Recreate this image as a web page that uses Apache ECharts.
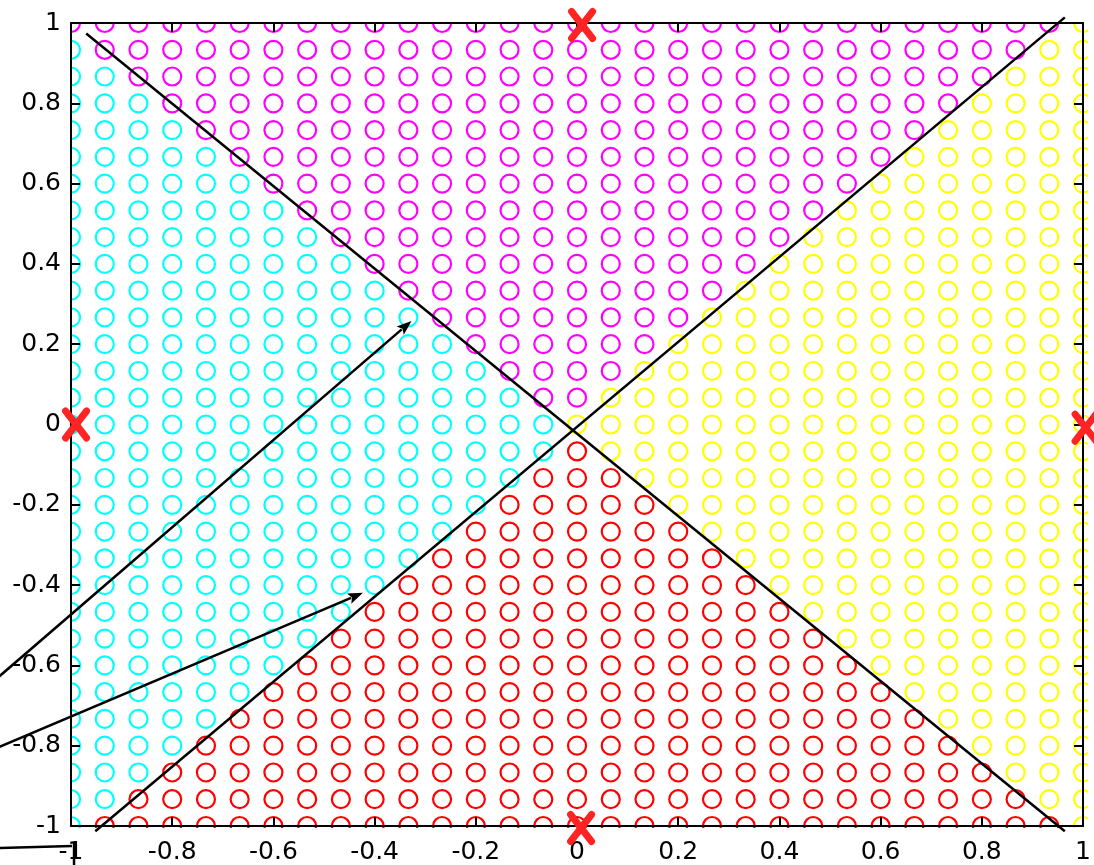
<!DOCTYPE html>
<html>
<head>
<meta charset="utf-8">
<script src="https://cdn.jsdelivr.net/npm/echarts@6/dist/echarts.min.js"></script>
<style>
html,body{margin:0;padding:0;background:#fff;}
#chart{width:1094px;height:865px;}
</style>
</head>
<body>
<div id="chart"></div>
<script>
// Sample grid coordinates (step 1/15 on both axes)
const gridX = [-1, -0.9333, -0.8667, -0.8, -0.7333, -0.6667, -0.6, -0.5333, -0.4667, -0.4, -0.3333,
  -0.2667, -0.2, -0.1333, -0.0667, 0, 0.0667, 0.1333, 0.2, 0.2667, 0.3333,
  0.4, 0.4667, 0.5333, 0.6, 0.6667, 0.7333, 0.8, 0.8667, 0.9333, 1];
const gridY = [1, 0.9333, 0.8667, 0.8, 0.7333, 0.6667, 0.6, 0.5333, 0.4667, 0.4, 0.3333,
  0.2667, 0.2, 0.1333, 0.0667, 0, -0.0667, -0.1333, -0.2, -0.2667, -0.3333,
  -0.4, -0.4667, -0.5333, -0.6, -0.6667, -0.7333, -0.8, -0.8667, -0.9333, -1];

// Class of every sample, one run-length row per gridY value (left to right)
const classRows = [
  'm30 y1', 'c1 m28 y2', 'c2 m26 y3', 'c3 m24 y4', 'c4 m22 y5', 'c5 m20 y6',
  'c6 m18 y7', 'c7 m16 y8', 'c8 m14 y9', 'c9 m12 y10', 'c10 m10 y11',
  'c11 m8 y12', 'c12 m6 y13', 'c13 m4 y14', 'c14 m2 y15', 'c15 y16',
  'c15 r1 y15', 'c14 r3 y14', 'c13 r5 y13', 'c12 r7 y12', 'c11 r9 y11',
  'c10 r11 y10', 'c9 r13 y9', 'c8 r15 y8', 'c7 r17 y7', 'c6 r19 y6',
  'c5 r21 y5', 'c4 r23 y4', 'c3 r25 y3', 'c2 r27 y2', 'c1 r29 y1'
];
const classColors = { c: '#00ffff', m: '#ff00ff', y: '#ffff00', r: '#ff0000' };

const xTickLabels = ['-1', '-0.8', '-0.6', '-0.4', '-0.2', '0', '0.2', '0.4', '0.6', '0.8', '1'];
const yTickLabels = ['-1', '-0.8', '-0.6', '-0.4', '-0.2', '0', '0.2', '0.4', '0.6', '0.8', '1'];

// Decision boundary lines
const boundaryA = [[-0.970, 0.974], [0.964, -1.013]];
const boundaryB = [[-0.952, -1.013], [0.964, 1.014]];
// Weight-vector arrows and trace segments (start, end)
const arrow1 = [[-1.25, -0.745], [-0.327, 0.258]];
const arrow2 = [[-1.25, -0.861], [-0.423, -0.419]];
const trace1 = [[-1.25, -1.058], [-0.998, -1.050]];
const trace2 = [[-0.994, -1.25], [-0.994, -1.04]];
// Target points
const targets = [[0.01, 0.995], [-0.99, 0], [1.005, -0.008], [0.008, -1.005]];

// Expand the run-length rows into point lists per class
const classPoints = { c: [], m: [], y: [], r: [] };
classRows.forEach(function (row, j) {
  let k = 0;
  row.split(' ').forEach(function (run) {
    const cls = run[0];
    const n = parseInt(run.slice(1), 10);
    for (let t = 0; t < n; t++, k++) classPoints[cls].push([gridX[k], gridY[j]]);
  });
});

function segment(seg, arrow) {
  return [seg[0][0], seg[0][1], seg[1][0], seg[1][1], arrow ? 1 : 0];
}
const segments = [
  segment(boundaryA, false), segment(boundaryB, false),
  segment(arrow1, true), segment(arrow2, true),
  segment(trace1, false), segment(trace2, false)
];

function tickLabel(labels) {
  return function (v) {
    const i = Math.round((v + 1) / 0.2);
    return labels[i] !== undefined ? labels[i] : '';
  };
}

const labelFont = { fontFamily: 'DejaVu Sans', fontSize: 25, color: '#000' };
const axisLineStyle = { color: '#000', width: 2 };
const tickStyle = { show: true, inside: true, length: 9, lineStyle: { color: '#000', width: 2 } };

function makeAxis(position, labels, withLabels, margin) {
  return {
    type: 'value', min: -1, max: 1, interval: 0.2, position: position, z: 10,
    axisLine: { show: true, onZero: false, lineStyle: axisLineStyle },
    axisTick: tickStyle,
    splitLine: { show: false },
    axisLabel: Object.assign({ show: withLabels, margin: margin, formatter: tickLabel(labels) }, labelFont)
  };
}

const scatterSeries = ['c', 'm', 'y', 'r'].map(function (cls) {
  return {
    type: 'scatter', name: cls, z: 2, silent: true,
    symbol: 'circle', symbolSize: 18,
    itemStyle: { color: 'rgba(0,0,0,0)', borderColor: classColors[cls], borderWidth: 2.2, opacity: 1 },
    data: classPoints[cls]
  };
});

const W = 1094, H = 865, GL = 71, GT = 23, GR = 7, GB = 38;

const chart = echarts.init(document.getElementById('chart'), null, { renderer: 'canvas' });
chart.setOption({
  backgroundColor: '#fff',
  animation: false,
  grid: { left: GL, right: GR, top: GT, bottom: GB },
  xAxis: [makeAxis('bottom', xTickLabels, true, 14), makeAxis('top', xTickLabels, false, 8)],
  yAxis: [makeAxis('left', yTickLabels, true, 10), makeAxis('right', yTickLabels, false, 8)],
  // white bands around the plot box so edge circles are cut at the axes
  graphic: { elements: [
    { type: 'rect', z: 5, silent: true, shape: { x: 0, y: 0, width: W, height: GT - 1 }, style: { fill: '#fff' } },
    { type: 'rect', z: 5, silent: true, shape: { x: 0, y: H - GB + 1, width: W, height: GB }, style: { fill: '#fff' } },
    { type: 'rect', z: 5, silent: true, shape: { x: 0, y: 0, width: GL - 1, height: H }, style: { fill: '#fff' } },
    { type: 'rect', z: 5, silent: true, shape: { x: W - GR + 1, y: 0, width: GR, height: H }, style: { fill: '#fff' } }
  ] },
  series: scatterSeries.concat([
    {
      type: 'custom', z: 20, silent: true, clip: false,
      encode: { x: [0, 2], y: [1, 3] },
      data: segments,
      renderItem: function (params, api) {
        const p1 = api.coord([api.value(0), api.value(1)]);
        const p2 = api.coord([api.value(2), api.value(3)]);
        const children = [];
        let end = p2;
        if (api.value(4)) {
          const dx = p2[0] - p1[0], dy = p2[1] - p1[1];
          const len = Math.sqrt(dx * dx + dy * dy);
          const ux = dx / len, uy = dy / len;
          const L = 15, Hw = 5.5;
          const bx = p2[0] - ux * L, by = p2[1] - uy * L;
          end = [bx + ux * 2, by + uy * 2];
          children.push({
            type: 'polygon',
            shape: { points: [[p2[0], p2[1]], [bx - uy * Hw, by + ux * Hw], [bx + ux * 3, by + uy * 3], [bx + uy * Hw, by - ux * Hw]] },
            style: { fill: '#000' }
          });
        }
        children.unshift({
          type: 'line',
          shape: { x1: p1[0], y1: p1[1], x2: end[0], y2: end[1] },
          style: { stroke: '#000', lineWidth: 2.5, lineCap: 'butt' }
        });
        return { type: 'group', children: children };
      }
    },
    {
      type: 'custom', z: 30, silent: true, clip: false,
      data: targets,
      renderItem: function (params, api) {
        const p = api.coord([api.value(0), api.value(1)]);
        const hw = 10.5, hh = 13.5;
        const st = { stroke: '#ff2424', lineWidth: 7, lineCap: 'round' };
        return {
          type: 'group',
          children: [
            { type: 'line', shape: { x1: p[0] - hw, y1: p[1] - hh, x2: p[0] + hw, y2: p[1] + hh }, style: st },
            { type: 'line', shape: { x1: p[0] - hw, y1: p[1] + hh, x2: p[0] + hw, y2: p[1] - hh }, style: st }
          ]
        };
      }
    }
  ])
});
</script>
</body>
</html>
